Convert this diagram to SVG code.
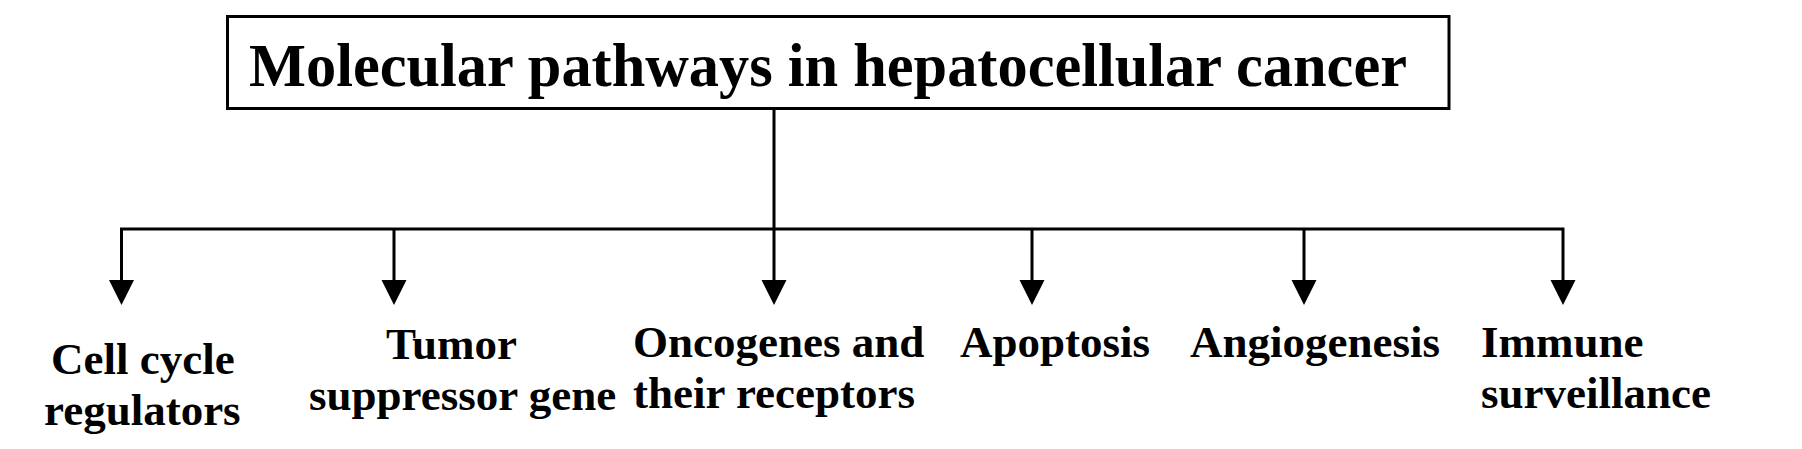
<svg xmlns="http://www.w3.org/2000/svg" width="1802" height="449" viewBox="0 0 1802 449">
<style>
.box{fill:#fff;stroke:#000;stroke-width:3}
.ln{fill:none;stroke:#000;stroke-width:3}
.ah{fill:#000}
.title{font-family:"Liberation Serif","Times New Roman",serif;font-weight:bold;font-size:62px;fill:#000}
.lbl{font-family:"Liberation Serif","Times New Roman",serif;font-weight:bold;font-size:45px;fill:#000}
</style>
<rect width="1802" height="449" fill="#fff"/>
<g id="connectors">
<path class="ln" d="M774 109V282"/>
<path class="ln" d="M121.5 282V229H1563V282"/>
<path class="ln" d="M394 229V282M1032 229V282M1304 229V282"/>
<polygon class="ah" points="109,280 134,280 121.5,305"/>
<polygon class="ah" points="381.5,280 406.5,280 394,305"/>
<polygon class="ah" points="761.5,280 786.5,280 774,305"/>
<polygon class="ah" points="1019.5,280 1044.5,280 1032,305"/>
<polygon class="ah" points="1291.5,280 1316.5,280 1304,305"/>
<polygon class="ah" points="1550.5,280 1575.5,280 1563,305"/>
</g>
<g id="root">
<rect class="box" x="227.5" y="16.5" width="1221.5" height="92"/>
<text class="title" x="249" y="86" textLength="1158" lengthAdjust="spacingAndGlyphs">Molecular pathways in hepatocellular cancer</text>
</g>
<g id="cellcycle">
<text class="lbl" x="51" y="374">Cell cycle</text>
<text class="lbl" x="44" y="425">regulators</text>
</g>
<g id="tumor">
<text class="lbl" x="386" y="359">Tumor</text>
<text class="lbl" x="309" y="410">suppressor gene</text>
</g>
<g id="oncogenes">
<text class="lbl" x="633" y="357">Oncogenes and</text>
<text class="lbl" x="633" y="408">their receptors</text>
</g>
<g id="apoptosis">
<text class="lbl" x="960" y="357">Apoptosis</text>
</g>
<g id="angiogenesis">
<text class="lbl" x="1190" y="357">Angiogenesis</text>
</g>
<g id="immune">
<text class="lbl" x="1481" y="357">Immune</text>
<text class="lbl" x="1481" y="408">surveillance</text>
</g>
</svg>
